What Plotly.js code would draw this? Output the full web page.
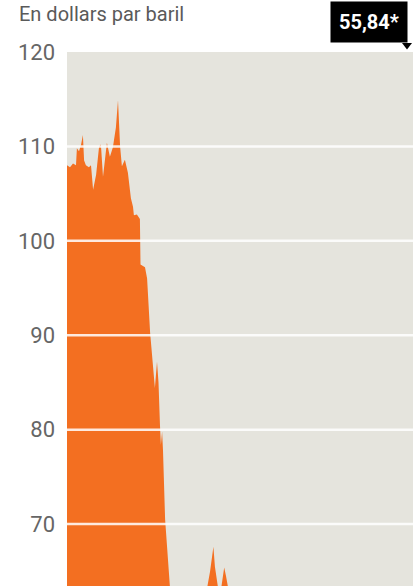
<!DOCTYPE html>
<html>
<head>
<meta charset="utf-8">
<script src="https://cdn.plot.ly/plotly-3.0.1.min.js"></script>
<style>
  html, body { margin: 0; padding: 0; background: #ffffff; }
  #chart { width: 413px; height: 586px; }
</style>
</head>
<body>
<div id="chart"></div>
<script>
// Brent price, dollars per barrel (below-chart part estimated)
const dates = [
  "2014-01-01","2014-01-11","2014-01-21","2014-01-31","2014-02-03","2014-02-10","2014-02-17","2014-02-23",
  "2014-02-27","2014-03-05","2014-03-15","2014-03-22","2014-03-29","2014-04-08","2014-04-18","2014-04-24",
  "2014-05-01","2014-05-08","2014-05-14","2014-05-24","2014-06-03","2014-06-13","2014-06-20","2014-06-27",
  "2014-07-03","2014-07-13","2014-07-23","2014-08-02","2014-08-09","2014-08-12","2014-08-22","2014-09-01",
  "2014-09-03","2014-09-18","2014-09-25","2014-10-05","2014-10-15","2014-10-21","2014-10-28","2014-11-02",
  "2014-11-07","2014-11-10","2014-11-14","2014-11-17","2014-11-24","2014-12-04","2014-12-10","2014-12-20",
  "2015-01-05","2015-01-15","2015-02-05","2015-02-20","2015-03-15","2015-04-01","2015-04-06","2015-04-16",
  "2015-04-23","2015-05-04","2015-05-09","2015-05-16","2015-05-23","2015-05-29","2015-06-09","2015-06-15",
  "2015-06-22","2015-07-02","2015-08-01","2015-09-01","2015-11-01","2016-01-20","2016-04-01","2016-06-08",
  "2016-08-02","2016-10-10","2016-11-14","2016-12-12","2017-02-07"
];
const prices = [
  108.0,107.8,108.2,108.0,109.8,109.5,110.2,111.2,
  108.5,108.0,107.8,108.0,105.4,107.0,110.0,110.2,
  106.8,108.5,110.4,108.9,109.9,112.0,114.9,110.0,
  107.9,108.6,107.2,104.5,103.6,102.7,102.8,102.3,
  97.5,97.2,96.0,90.3,86.0,84.4,87.2,85.0,
  80.4,78.4,79.8,77.8,70.5,65.5,63.4,60.0,
  53.0,47.0,56.0,60.0,54.0,56.0,62.0,63.8,
  65.0,67.6,65.5,64.0,62.5,63.0,65.4,64.5,
  63.3,61.5,52.0,48.0,48.0,28.0,39.0,51.0,
  42.0,53.0,44.0,55.0,55.84
];
const yTicks = [70, 80, 90, 100, 110, 120];
const gridValues = [70, 80, 90, 100, 110];
const titleText = "En dollars par baril";
const lastLabel = "55,84*";

const trace = {
  x: dates,
  y: prices,
  type: "scatter",
  mode: "lines",
  fill: "tozeroy",
  fillcolor: "#f36f21",
  line: { width: 0, color: "#f36f21", shape: "linear" },
  hoverinfo: "skip"
};

const gridShapes = gridValues.map(v => ({
  type: "line", xref: "paper", yref: "y",
  x0: 0, x1: 1, y0: v, y1: v,
  line: { color: "rgba(255,255,255,0.85)", width: 2.5 },
  layer: "above"
}));

const pointer = {
  type: "path", xref: "paper", yref: "paper",
  path: "M 0.9682 1.0169 L 0.9971 1.0169 L 0.9827 1.0047 Z",
  fillcolor: "#000000", line: { width: 0 }, layer: "above"
};

const layout = {
  width: 413, height: 586,
  margin: { l: 67, r: 0, t: 52, b: 0, pad: 0 },
  paper_bgcolor: "#ffffff",
  plot_bgcolor: "#e5e4dd",
  showlegend: false,
  font: { family: "Roboto, 'Open Sans', sans-serif", color: "#5f5f5f" },
  xaxis: {
    type: "date",
    range: ["2014-01-01", "2017-02-27 08:00"],
    visible: false, showgrid: false, zeroline: false, fixedrange: true
  },
  yaxis: {
    range: [63.44, 120],
    tickvals: yTicks,
    ticktext: yTicks.map(String),
    showgrid: false, zeroline: false, showline: false,
    ticks: "", ticklabelstandoff: 11,
    tickfont: { size: 22, color: "#666666", family: "Roboto, 'Open Sans', sans-serif" },
    fixedrange: true
  },
  shapes: gridShapes.concat([pointer]),
  annotations: [
    {
      text: titleText, xref: "paper", yref: "paper",
      x: -0.1416, y: 1, xanchor: "left", yanchor: "bottom", yshift: 25,
      showarrow: false, borderpad: 0,
      font: { size: 20, color: "#5a5a5a", family: "Roboto, 'Open Sans', sans-serif" }
    },
    {
      text: "<b>" + lastLabel + "</b>", xref: "paper", yref: "paper",
      x: 0.9855, y: 1, xanchor: "right", yanchor: "bottom", yshift: 9,
      showarrow: false, bgcolor: "#000000", borderpad: 8,
      font: { size: 20, color: "#ffffff", family: "Roboto, 'Open Sans', sans-serif" }
    }
  ]
};

Plotly.newPlot("chart", [trace], layout, { displayModeBar: false, staticPlot: true });
</script>
</body>
</html>
